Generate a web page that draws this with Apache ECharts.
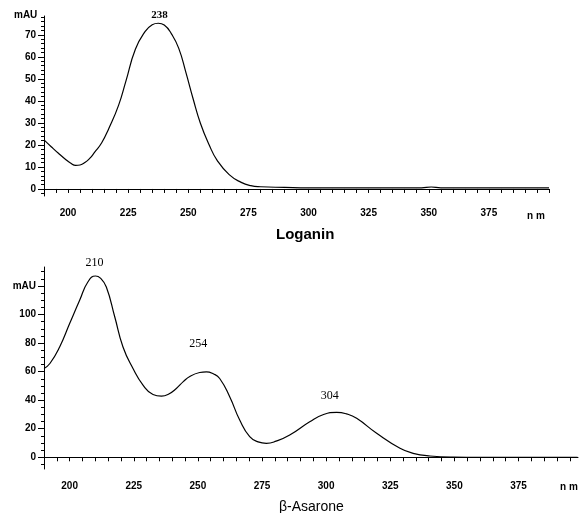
<!DOCTYPE html>
<html>
<head>
<meta charset="utf-8">
<script src="https://cdn.jsdelivr.net/npm/echarts@6/dist/echarts.min.js"></script>
<style>
  html, body { margin: 0; padding: 0; background: #fff; }
  #chart { width: 579px; height: 513px; }
</style>
</head>
<body>
<div id="chart"></div>
<script>
// Loganin UV spectrum, [nm, mAU]
const loganinSpectrum = [
  [190, 22.3], [193, 19.2], [196, 16.2], [199, 13.4], [201, 11.8], [203.2, 10.7],
  [205, 10.9], [207, 12], [209, 13.9], [211, 16.6], [214, 21], [217, 27.6],
  [221, 38], [224, 48.8], [228, 63.5], [232, 71.5], [235, 74.6], [237.5, 75.3],
  [240, 74.5], [243, 70.5], [246, 64], [249, 53], [252, 41], [255, 30],
  [258.7, 20], [262, 13], [267, 6.5], [272, 3], [276, 1.5], [280, 1.0],
  [290, 0.7], [300, 0.5], [340, 0.5], [347, 0.5], [351, 0.9], [355, 0.5], [400, 0.5]
];
// beta-Asarone UV spectrum, [nm, mAU]
const asaroneSpectrum = [
  [190, 62.2], [192.3, 65.7], [196.1, 77.3], [200, 93.7], [203.9, 110],
  [207.1, 122.8], [210.1, 127], [212, 125.5], [214.3, 119.3], [217.6, 98.3],
  [220.8, 77.3], [224.7, 62.2], [228.6, 50.6], [232.5, 44], [235.8, 42.9],
  [238.5, 44.2], [241.6, 48.2], [244.3, 53], [247, 56.8], [250.7, 59.4],
  [253.3, 59.9], [256, 58.5], [258.5, 55.2], [262.4, 42.4], [266.3, 26.1],
  [270.2, 14.4], [273.5, 10.8], [276.7, 9.8], [280.5, 11.3], [285.8, 15.6],
  [293.6, 24.9], [299, 30], [304.1, 31.5], [308, 30.4], [311.9, 27.3],
  [319.7, 16.8], [328.8, 6.3], [333.9, 2.8], [340.5, 0.9], [349.6, 0.1],
  [360, 0], [398, 0]
];
// peak labels: [nm, mAU, text]
const loganinPeaks = [[237.2, 75.3, '238']];
const asaronePeaks = [[210.1, 127, '210'], [253.3, 59.9, '254'], [304.1, 31.5, '304']];
const peakOffsetsBottom = [[-1, -13], [-8, -28], [-7, -16]];

const xLabelValues = [200, 225, 250, 275, 300, 325, 350, 375];
const xTickTop = [];
for (let v = 190; v <= 400; v += 5) xTickTop.push(v);
const xTickBottom = xTickTop.filter(v => v <= 395);
const yMajorTop = [0, 10, 20, 30, 40, 50, 60, 70];
const yMinorTop = [];
for (let v = -2; v <= 78; v += 2) yMinorTop.push(v);
const yMajorBottom = [0, 20, 40, 60, 80, 100, 120];
const yMinorBottom = [];
for (let v = -5; v <= 130; v += 5) yMinorBottom.push(v);

const font = 'Liberation Sans, Arial, sans-serif';
const serif = 'Liberation Serif, Times New Roman, serif';
const axisLine = { show: true, lineStyle: { color: '#000', width: 1 } };

const chart = echarts.init(document.getElementById('chart'));

function xAxis(gridIndex, min, max, ticks) {
  return {
    type: 'value', gridIndex, min, max,
    axisLine,
    axisTick: { show: true, length: 4, customValues: ticks, lineStyle: { color: '#000' } },
    axisLabel: { customValues: xLabelValues, fontFamily: font, fontWeight: 'bold', fontSize: 10, color: '#000', margin: 12 },
    splitLine: { show: false }
  };
}
function yAxisMajor(gridIndex, min, max, ticks, fmt) {
  return {
    type: 'value', gridIndex, min, max, position: 'left',
    axisLine,
    axisTick: { show: true, length: 6, customValues: ticks, lineStyle: { color: '#000' } },
    axisLabel: { customValues: ticks, formatter: fmt, fontFamily: font, fontWeight: 'bold', fontSize: 10, color: '#000', margin: 8 },
    splitLine: { show: false }
  };
}
function yAxisMinor(gridIndex, min, max, ticks) {
  return {
    type: 'value', gridIndex, min, max, position: 'left', offset: 0,
    axisLine: { show: false },
    axisTick: { show: true, length: 3, customValues: ticks, lineStyle: { color: '#000' } },
    axisLabel: { show: false },
    splitLine: { show: false }
  };
}

chart.setOption({
  animation: false,
  backgroundColor: '#fff',
  grid: [
    { left: 44, top: 16, width: 505, height: 180 },
    { left: 44, top: 267, width: 534, height: 202 }
  ],
  xAxis: [
    xAxis(0, 190, 400, xTickTop),
    xAxis(1, 190, 398.2, xTickBottom)
  ],
  yAxis: [
    yAxisMajor(0, -3.2, 78.6, yMajorTop, v => String(v)),
    yAxisMinor(0, -3.2, 78.6, yMinorTop),
    yAxisMajor(1, -8.2, 133.3, yMajorBottom, v => (v === 120 ? 'mAU' : String(v))),
    yAxisMinor(1, -8.2, 133.3, yMinorBottom)
  ],
  series: [
    {
      type: 'line', xAxisIndex: 0, yAxisIndex: 0,
      data: loganinSpectrum, showSymbol: false, smooth: 0.5,
      lineStyle: { color: '#000', width: 1.2 },
      markPoint: {
        symbol: 'circle', symbolSize: 1, itemStyle: { color: 'rgba(0,0,0,0)' },
        label: { show: true, position: 'inside', offset: [2, -8], formatter: '{b}', fontFamily: serif, fontWeight: 'bold', fontSize: 11, color: '#000' },
        data: loganinPeaks.map(p => ({ coord: [p[0], p[1]], name: p[2] }))
      }
    },
    {
      type: 'line', xAxisIndex: 1, yAxisIndex: 2,
      data: asaroneSpectrum, showSymbol: false, smooth: 0.5,
      lineStyle: { color: '#000', width: 1.2 },
      markPoint: {
        symbol: 'circle', symbolSize: 1, itemStyle: { color: 'rgba(0,0,0,0)' },
        data: asaronePeaks.map((p, i) => ({
          coord: [p[0], p[1]], name: p[2],
          label: { show: true, position: 'inside', offset: peakOffsetsBottom[i], formatter: '{b}', fontFamily: serif, fontSize: 12, color: '#000' }
        }))
      }
    }
  ],
  graphic: [
    { type: 'text', left: 14, top: 10, style: { text: 'mAU', font: 'bold 10px ' + font, fill: '#000' } },
    { type: 'text', left: 527, top: 211, style: { text: 'n m', font: 'bold 10px ' + font, fill: '#000' } },
    { type: 'text', left: 560, top: 482, style: { text: 'n m', font: 'bold 10px ' + font, fill: '#000' } },
    { type: 'text', left: 276, top: 227, style: { text: 'Loganin', font: 'bold 15px ' + font, fill: '#000' } },
    { type: 'text', left: 279, top: 500, style: { text: 'β-Asarone', font: '14px ' + font, fill: '#000' } }
  ]
});
</script>
</body>
</html>
